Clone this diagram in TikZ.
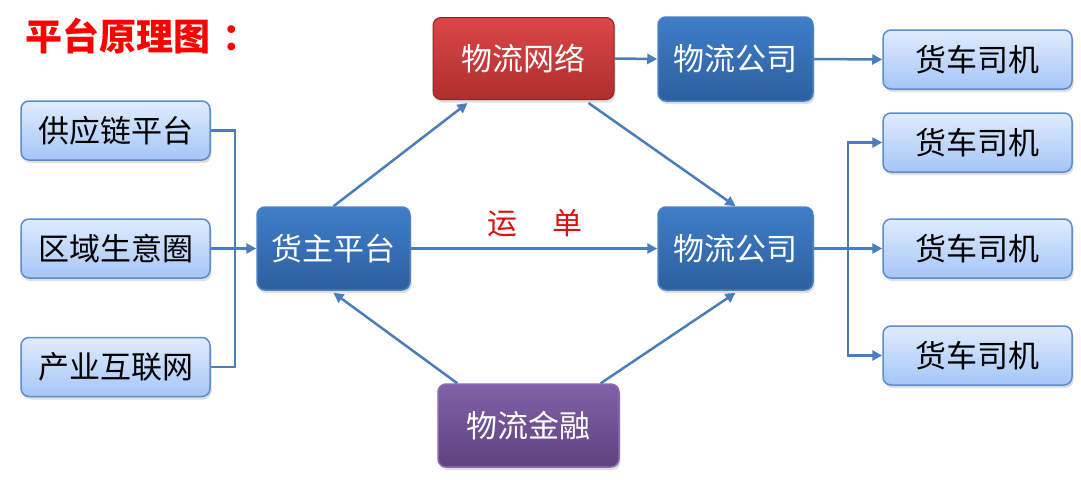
\documentclass[tikz,border=0pt]{standalone}
\usepackage{fontspec}
\setmainfont{Noto Sans CJK SC}
\newfontfamily\cjk{Noto Sans CJK SC}
\usetikzlibrary{arrows.meta,shadows,calc}
\definecolor{arr}{HTML}{4A7EBB}
\definecolor{lbtop}{HTML}{E0ECFE}
\definecolor{lbbot}{HTML}{A5C5F7}
\definecolor{lbdraw}{HTML}{5B8CCB}
\definecolor{dbtop}{HTML}{3F7EC9}
\definecolor{dbbot}{HTML}{2D5F9F}
\definecolor{dbdraw}{HTML}{4A80C4}
\definecolor{rdtop}{HTML}{DC4747}
\definecolor{rdbot}{HTML}{AE2E2E}
\definecolor{rddraw}{HTML}{8E2424}
\definecolor{putop}{HTML}{8060A8}
\definecolor{pubot}{HTML}{5E437F}
\definecolor{pudraw}{HTML}{8A6BB0}
\tikzset{
  box/.style={rounded corners=8pt, inner sep=0pt, font=\cjk\fontsize{31}{31}\selectfont,
    drop shadow={opacity=0.25, shadow xshift=1.5pt, shadow yshift=-3pt}},
  lightbox/.style={box, draw=lbdraw, line width=1.5pt, top color=lbtop, bottom color=lbbot,
    text=black, minimum width=189pt, minimum height=59pt},
  darkbox/.style={box, draw=dbdraw, line width=1.5pt, top color=dbtop, bottom color=dbbot, text=white},
  redbox/.style={box, draw=rddraw, line width=1pt, top color=rdtop, bottom color=rdbot, text=white},
  purplebox/.style={box, draw=pudraw, line width=1.5pt, top color=putop, bottom color=pubot, text=white},
  conn/.style={draw=arr, line width=2.5pt},
  arrow/.style={conn, -{Triangle[length=10pt,width=10pt]}}
}
\begin{document}
\begin{tikzpicture}[x=1pt,y=-1pt]
\useasboundingbox[fill=white] (0,0) rectangle (1081,480);

\node[anchor=west, text=red, font=\cjk\bfseries\fontsize{37}{37}\selectfont] (title) at (22,36) {平台原理图\hspace{12pt}：};

\node[lightbox] (l1) at (115.5,130.5) {供应链平台};
\node[lightbox] (l2) at (115.5,248.5) {区域生意圈};
\node[lightbox] (l3) at (115.5,367) {产业互联网};

\node[darkbox, minimum width=153pt, minimum height=83pt] (hz) at (333.5,248.5) {货主平台};
\node[redbox, minimum width=181pt, minimum height=82pt] (net) at (523.5,58.5) {物流网络};
\node[darkbox, minimum width=155pt, minimum height=84pt] (lc1) at (735.5,59) {物流公司};
\node[darkbox, minimum width=155pt, minimum height=83pt] (lc2) at (735.5,248.5) {物流公司};
\node[purplebox, minimum width=181pt, minimum height=83pt] (fin) at (528.5,425.5) {物流金融};

\node[lightbox] (d1) at (977.5,59.5) {货车司机};
\node[lightbox] (d2) at (977.5,142.5) {货车司机};
\node[lightbox] (d3) at (977.5,248.5) {货车司机};
\node[lightbox] (d4) at (977.5,355.5) {货车司机};

\node[text={rgb,255:red,220;green,16;blue,16}, font=\cjk\fontsize{30}{30}\selectfont] (wb) at (535,223) {运\hspace{35pt}单};

% left bus
\coordinate (busL) at (235,248.5);
\draw[conn] (l1.east) -| (busL) |- (l3.east);
\draw[arrow] (l2.east) -- (hz.west);

% center
\draw[arrow] (hz.north) -- ([xshift=35pt,yshift=-3pt]net.south west);
\draw[arrow] ([xshift=-26pt,yshift=-3pt]net.south east) -- (lc2.north);
\draw[arrow] (net.east) -- (lc1.west);
\draw[arrow] (hz.east) -- (lc2.west);
\draw[arrow] ([xshift=20pt]fin.north west) -- ([yshift=-2pt]hz.south);
\draw[arrow] ([xshift=-19pt]fin.north east) -- ([yshift=-2pt]lc2.south);

% right
\draw[arrow] (lc1.east) -- (d1.west);
\coordinate (busR) at (848,248.5);
\draw[conn] (lc2.east) -- (busR);
\draw[arrow] (busR) |- (d2.west);
\draw[arrow] (busR) -- (d3.west);
\draw[arrow] (busR) |- (d4.west);
\end{tikzpicture}
\end{document}
